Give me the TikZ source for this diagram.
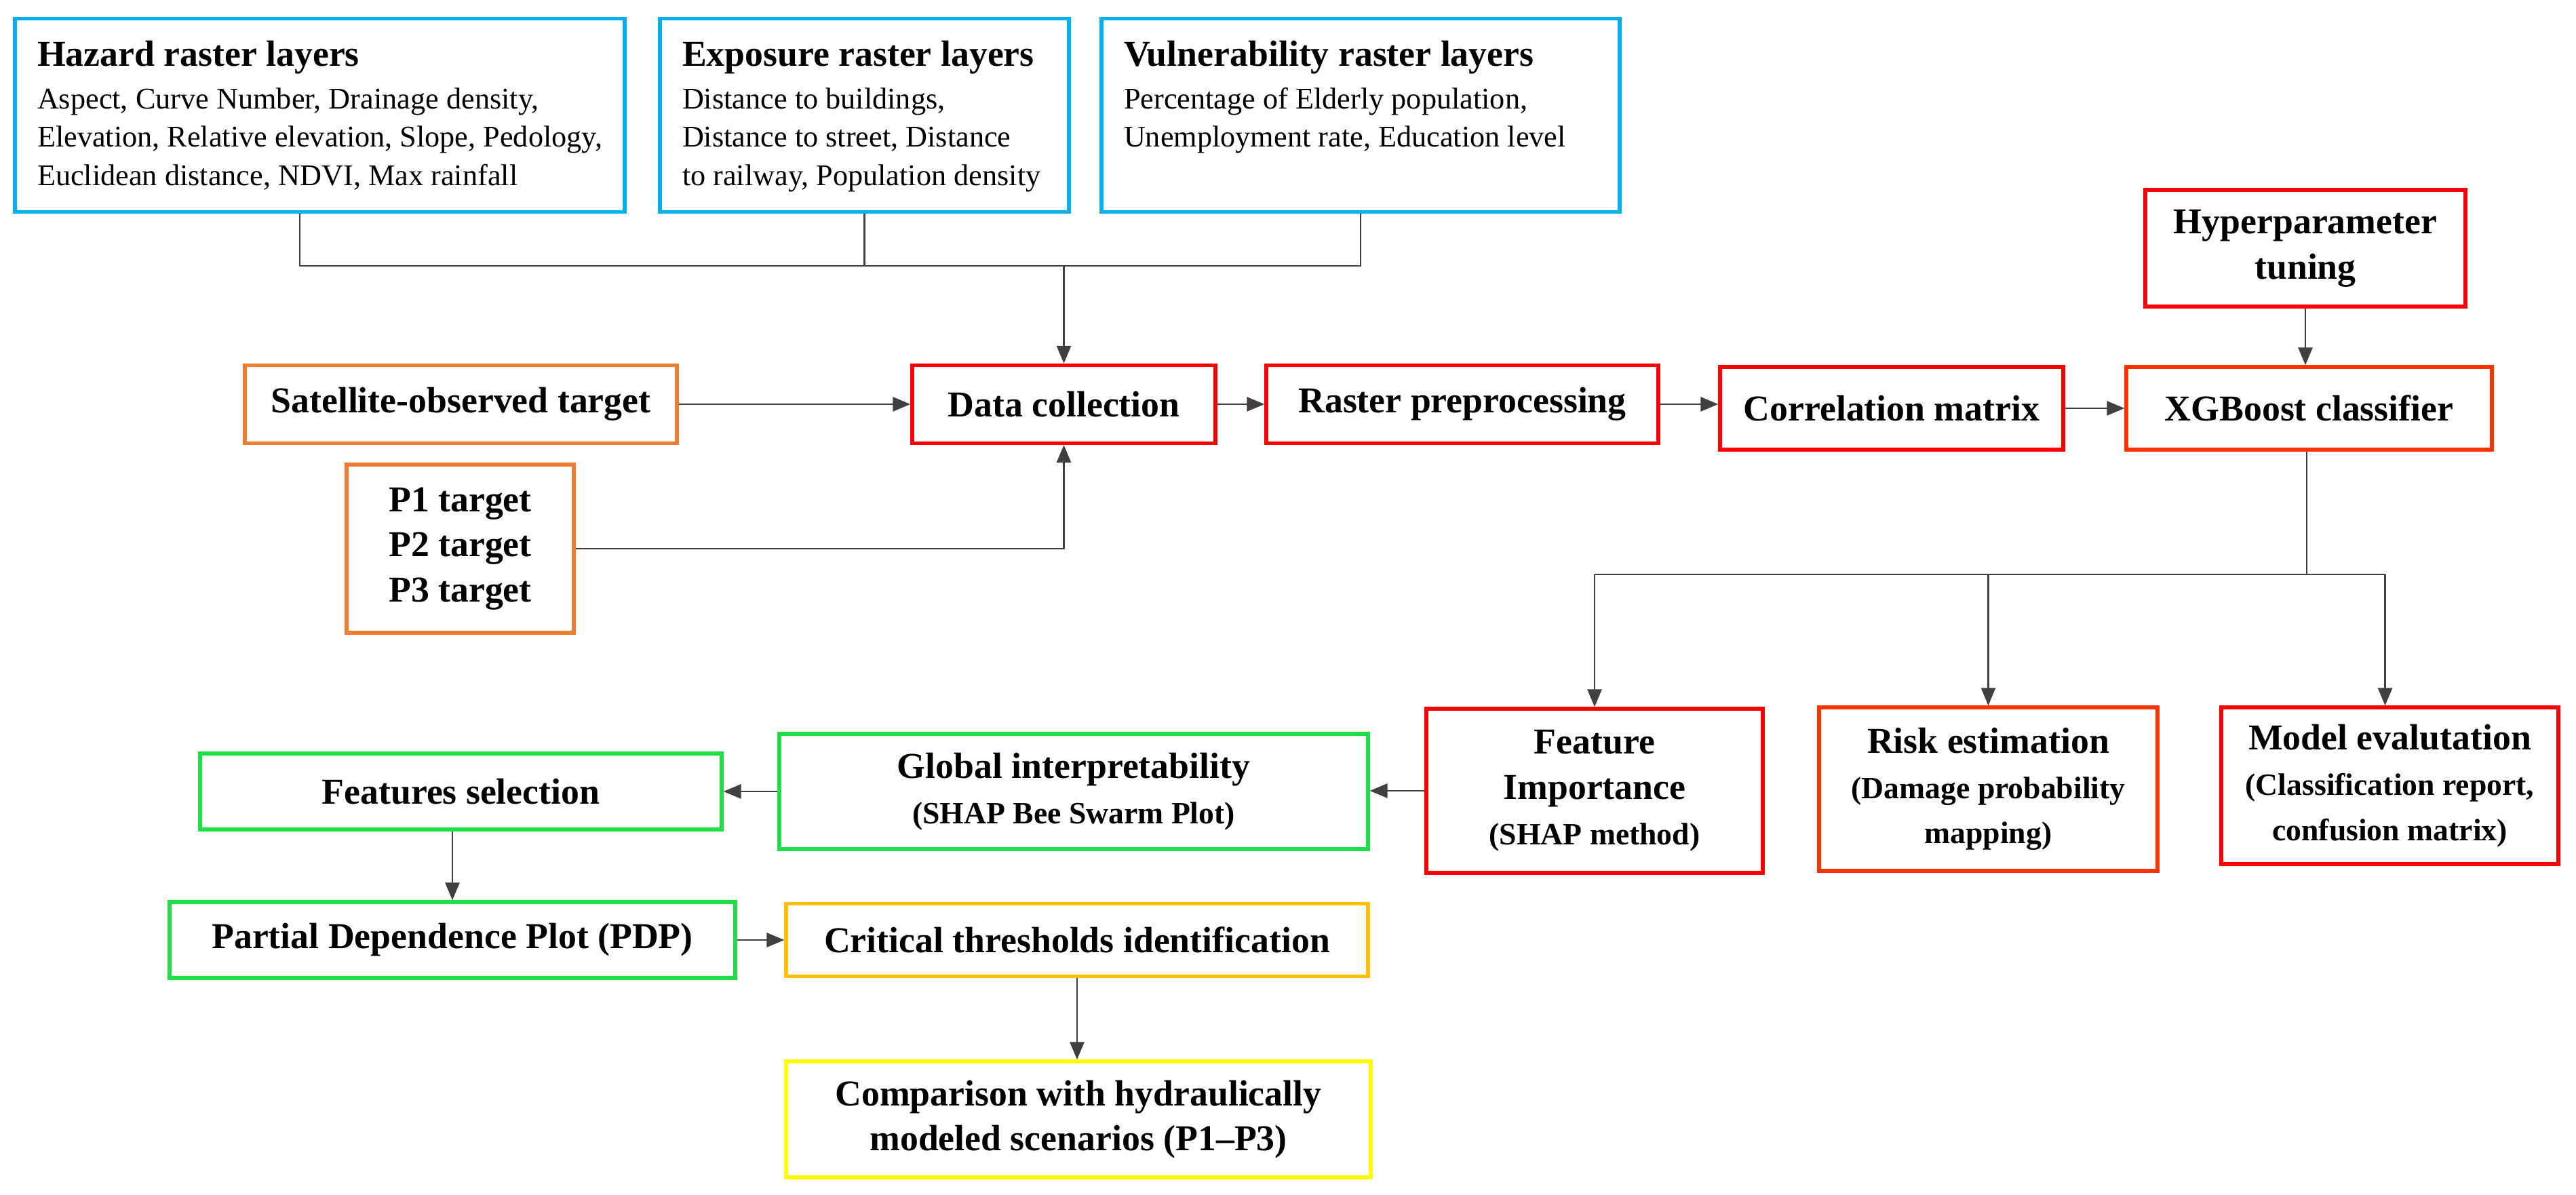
\documentclass[tikz,border=0pt]{standalone}
\usepackage{fontspec}
\setmainfont{Liberation Serif}
\usetikzlibrary{arrows.meta}

\definecolor{layerblue}{HTML}{00B0F0}
\definecolor{tgtorange}{HTML}{ED7D31}
\definecolor{boxred}{HTML}{FF0000}
\definecolor{redorange}{HTML}{FF3300}
\definecolor{boxgreen}{HTML}{1EE046}
\definecolor{boxgold}{HTML}{FFC000}
\definecolor{boxyellow}{HTML}{FFFF00}
\definecolor{linegray}{HTML}{404040}

\newcommand{\bigtxt}{\fontsize{15.3}{19}\selectfont\bfseries}
\newcommand{\subtxt}{\fontsize{13}{16.5}\selectfont\bfseries}
\newcommand{\bodytxt}{\fontsize{12.6}{16}\selectfont\mdseries}

\tikzset{
  box/.style={draw, line width=1.5pt, fill=white, align=center, inner sep=1pt, font=\bigtxt},
  layer/.style={box, draw=layerblue, minimum height=2.85cm},
  link/.style={draw=linegray, line width=0.8pt},
  arr/.style={link, -{Triangle[length=0.26cm,width=0.21cm]}}
}

\begin{document}
\begin{tikzpicture}
\useasboundingbox (0,0) rectangle (37.98,-17.62);

\node[layer, minimum width=8.99cm] (haz) at (4.715,-1.7)
  {\parbox[t][2.2cm][t]{8.33cm}{\raggedright Hazard raster layers\par\vspace{2pt}
   \bodytxt Aspect, Curve Number, Drainage density,\\
   Elevation, Relative elevation, Slope, Pedology,\\
   Euclidean distance, NDVI, Max rainfall}};
\node[layer, minimum width=6.03cm] (expo) at (12.745,-1.7)
  {\parbox[t][2.2cm][t]{5.37cm}{\raggedright Exposure raster layers\par\vspace{2pt}
   \bodytxt Distance to buildings,\\
   Distance to street, Distance\\
   to railway, Population density}};
\node[layer, minimum width=7.64cm] (vuln) at (20.06,-1.7)
  {\parbox[t][2.2cm][t]{6.98cm}{\raggedright Vulnerability raster layers\par\vspace{2pt}
   \bodytxt Percentage of Elderly population,\\
   Unemployment rate, Education level}};

\node[box, draw=boxred, minimum width=4.72cm, minimum height=1.72cm] (hyper) at (33.99,-3.66)
  {Hyperparameter\\tuning};

\node[box, draw=tgtorange, minimum width=6.37cm, minimum height=1.15cm] (sat) at (6.795,-5.96)
  {Satellite-observed target};
\node[box, draw=boxred, minimum width=4.47cm, minimum height=1.15cm] (data) at (15.685,-5.96)
  {Data collection};
\node[box, draw=boxred, minimum width=5.78cm, minimum height=1.15cm] (raster) at (21.56,-5.96)
  {Raster preprocessing};
\node[box, draw=boxred, minimum width=5.06cm, minimum height=1.22cm] (corr) at (27.89,-6.02)
  {Correlation matrix};
\node[box, draw=redorange, minimum width=5.39cm, minimum height=1.22cm] (xgb) at (34.045,-6.02)
  {XGBoost classifier};

\node[box, draw=tgtorange, align=left, minimum width=3.35cm, minimum height=2.48cm] (ptgt) at (6.785,-8.09)
  {P1 target\\P2 target\\P3 target};

\node[box, draw=boxred, minimum width=4.96cm, minimum height=2.42cm] (featimp) at (23.51,-11.66)
  {Feature\\Importance\\{\subtxt (SHAP method)}};
\node[box, draw=redorange, minimum width=4.99cm, minimum height=2.41cm] (risk) at (29.315,-11.635)
  {Risk estimation\\{\subtxt (Damage probability}\\{\subtxt mapping)}};
\node[box, draw=boxred, minimum width=4.97cm, minimum height=2.31cm] (modeval) at (35.235,-11.585)
  {Model evalutation\\{\subtxt (Classification report,}\\{\subtxt confusion matrix)}};

\node[box, draw=boxgreen, minimum width=8.68cm, minimum height=1.70cm] (global) at (15.83,-11.67)
  {Global interpretability\\{\subtxt (SHAP Bee Swarm Plot)}};
\node[box, draw=boxgreen, minimum width=7.69cm, minimum height=1.12cm] (featsel) at (6.795,-11.67)
  {Features selection};
\node[box, draw=boxgreen, minimum width=8.34cm, minimum height=1.12cm] (pdp) at (6.67,-13.86)
  {Partial Dependence Plot (PDP)};
\node[box, draw=boxgold, minimum width=8.58cm, minimum height=1.07cm] (crit) at (15.88,-13.86)
  {Critical thresholds identification};
\node[box, draw=boxyellow, minimum width=8.62cm, minimum height=1.71cm] (comp) at (15.9,-16.505)
  {Comparison with hydraulically\\modeled scenarios (P1--P3)};

\coordinate (hub) at (15.685,-3.92);
\coordinate (split) at (34.01,-8.47);

\draw[link] ([xshift=-0.295cm]haz.south) |- (vuln.south |- hub) -- (vuln.south);
\draw[link] (expo.south) -- (expo.south |- hub);
\draw[arr] (hub) -- (data.north);
\draw[arr] (sat.east) -- (data.west);
\draw[arr] (ptgt.east) -| (data.south);
\draw[arr] (data.east) -- (raster.west);
\draw[arr] (raster.east) -- (raster.east -| corr.west);
\draw[arr] (corr.east) -- (xgb.west);
\draw[arr] (hyper.south) -- (hyper.south |- xgb.north);

\draw[link] (xgb.south -| split) -- (split);
\draw[link] (featimp.north |- split) -- ([xshift=-0.07cm]modeval.north |- split);
\draw[arr] (featimp.north |- split) -- (featimp.north);
\draw[arr] (risk.north |- split) -- (risk.north);
\draw[arr] ([xshift=-0.07cm]modeval.north |- split) -- ([xshift=-0.07cm]modeval.north);

\draw[arr] (featimp.west) -- (featimp.west -| global.east);
\draw[arr] (global.west) -- (featsel.east);
\draw[arr] (featsel.south -| pdp.north) -- (pdp.north);
\draw[arr] (pdp.east) -- (crit.west);
\draw[arr] (crit.south) -- (crit.south |- comp.north);

\end{tikzpicture}
\end{document}
